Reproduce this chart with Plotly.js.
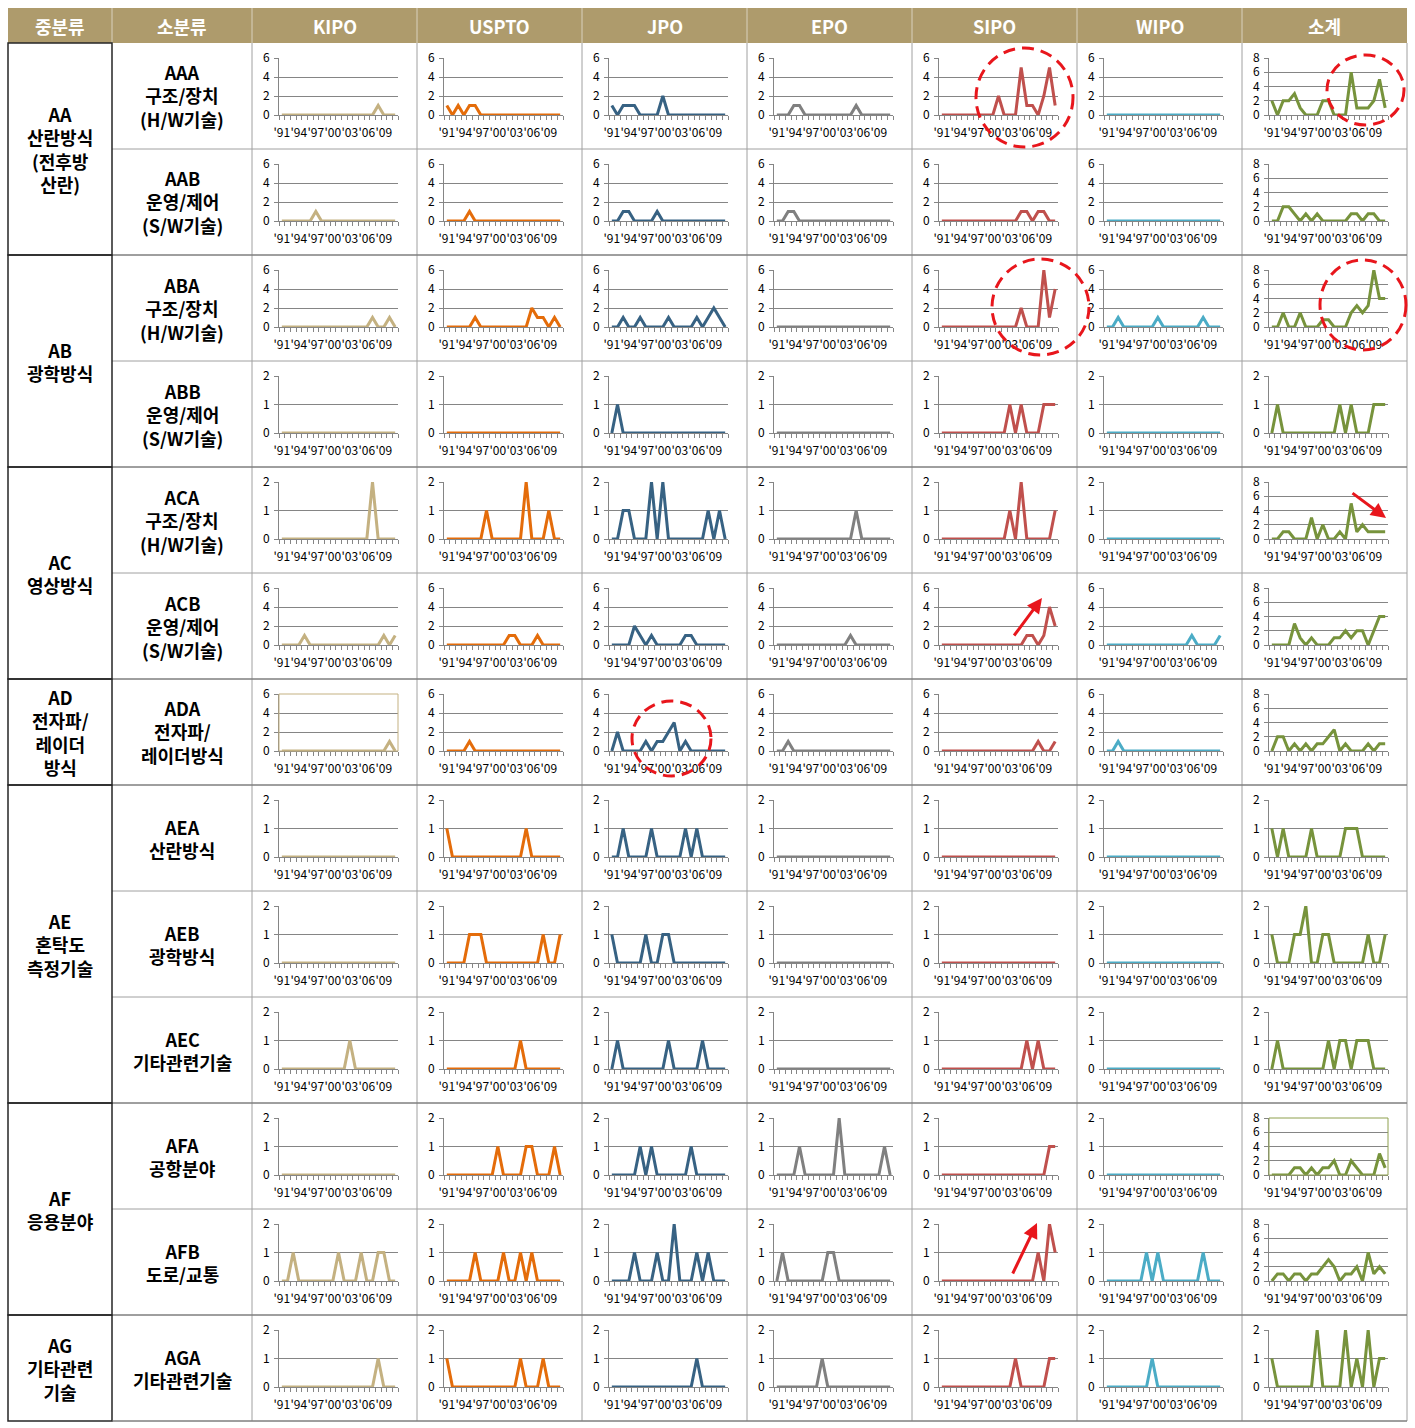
<!DOCTYPE html>
<html><head><meta charset="utf-8">
<script src="https://cdn.plot.ly/plotly-3.0.1.min.js"></script>
<style>html,body{margin:0;padding:0;background:#fff}#chart{width:1415px;height:1428px}</style>
</head><body><div id="chart"></div>
<script>
const years = [1991,1992,1993,1994,1995,1996,1997,1998,1999,2000,2001,2002,2003,2004,2005,2006,2007,2008,2009,2010,2011];
const yearTicks = [1991,1994,1997,2000,2003,2006,2009];
const yearTickText = ["'91","'94","'97","'00","'03","'06","'09"];
const offices = ["KIPO","USPTO","JPO","EPO","SIPO","WIPO","소계"];
const headerLeft = ["중분류","소분류"];
const midGroups = ["AA<br>산란방식<br>(전후방<br>산란)","AB<br>광학방식","AC<br>영상방식","AD<br>전자파/<br>레이더<br>방식","AE<br>혼탁도<br>측정기술","AF<br>응용분야","AG<br>기타관련<br>기술"];
const midGroupRows = [2,2,2,1,3,2,1];
const subCodes = ["AAA","AAB","ABA","ABB","ACA","ACB","ADA","AEA","AEB","AEC","AFA","AFB","AGA"];
const subNames = ["구조/장치<br>(H/W기술)","운영/제어<br>(S/W기술)","구조/장치<br>(H/W기술)","운영/제어<br>(S/W기술)","구조/장치<br>(H/W기술)","운영/제어<br>(S/W기술)","전자파/<br>레이더방식","산란방식","광학방식","기타관련기술","공항분야","도로/교통","기타관련기술"];

// ---- data (index 0 = 1991 ... 20 = 2011) ----
const AAA_KIPO  = [0,0,0,0,0,0,0,0,0,0,0,0,0,0,0,0,0,1,0,0,0];
const AAA_USPTO = [1,0,1,0,1,1,0,0,0,0,0,0,0,0,0,0,0,0,0,0,0];
const AAA_JPO   = [1,0,1,1,1,0,0,0,0,2,0,0,0,0,0,0,0,0,0,0,0];
const AAA_EPO   = [0,0,0,1,1,0,0,0,0,0,0,0,0,0,1,0,0,0,0,0,0];
const AAA_SIPO  = [0,0,0,0,0,0,0,0,0,0,2,0,0,0,5,1,1,0,2,5,1];
const AAA_WIPO  = [0,0,0,0,0,0,0,0,0,0,0,0,0,0,0,0,0,0,0,0,0];
const AAA_SUM   = [2,0,2,2,3,1,0,0,0,2,2,0,0,0,6,1,1,1,2,5,1];

const AAB_KIPO  = [0,0,0,0,0,0,1,0,0,0,0,0,0,0,0,0,0,0,0,0,0];
const AAB_USPTO = [0,0,0,0,1,0,0,0,0,0,0,0,0,0,0,0,0,0,0,0,0];
const AAB_JPO   = [0,0,1,1,0,0,0,0,1,0,0,0,0,0,0,0,0,0,0,0,0];
const AAB_EPO   = [0,0,1,1,0,0,0,0,0,0,0,0,0,0,0,0,0,0,0,0,0];
const AAB_SIPO  = [0,0,0,0,0,0,0,0,0,0,0,0,0,0,1,1,0,1,1,0,0];
const AAB_WIPO  = [0,0,0,0,0,0,0,0,0,0,0,0,0,0,0,0,0,0,0,0,0];
const AAB_SUM   = [0,0,2,2,1,0,1,0,1,0,0,0,0,0,1,1,0,1,1,0,0];

const ABA_KIPO  = [0,0,0,0,0,0,0,0,0,0,0,0,0,0,0,0,1,0,0,1,0];
const ABA_USPTO = [0,0,0,0,0,1,0,0,0,0,0,0,0,0,0,2,1,1,0,1,0];
const ABA_JPO   = [0,0,1,0,0,1,0,0,0,0,1,0,0,0,0,1,0,1,2,1,0];
const ABA_EPO   = [0,0,0,0,0,0,0,0,0,0,0,0,0,0,0,0,0,0,0,0,0];
const ABA_SIPO  = [0,0,0,0,0,0,0,0,0,0,0,0,0,0,2,0,0,0,6,1,4];
const ABA_WIPO  = [0,0,1,0,0,0,0,0,0,1,0,0,0,0,0,0,0,1,0,0,0];
const ABA_SUM   = [0,0,2,0,0,2,0,0,0,1,1,0,0,0,2,3,2,3,8,4,4];

const ABB_KIPO  = [0,0,0,0,0,0,0,0,0,0,0,0,0,0,0,0,0,0,0,0,0];
const ABB_USPTO = [0,0,0,0,0,0,0,0,0,0,0,0,0,0,0,0,0,0,0,0,0];
const ABB_JPO   = [0,1,0,0,0,0,0,0,0,0,0,0,0,0,0,0,0,0,0,0,0];
const ABB_EPO   = [0,0,0,0,0,0,0,0,0,0,0,0,0,0,0,0,0,0,0,0,0];
const ABB_SIPO  = [0,0,0,0,0,0,0,0,0,0,0,0,1,0,1,0,0,0,1,1,1];
const ABB_WIPO  = [0,0,0,0,0,0,0,0,0,0,0,0,0,0,0,0,0,0,0,0,0];
const ABB_SUM   = [0,1,0,0,0,0,0,0,0,0,0,0,1,0,1,0,0,0,1,1,1];

const ACA_KIPO  = [0,0,0,0,0,0,0,0,0,0,0,0,0,0,0,0,2,0,0,0,0];
const ACA_USPTO = [0,0,0,0,0,0,0,1,0,0,0,0,0,0,2,0,0,0,1,0,0];
const ACA_JPO   = [0,0,1,1,0,0,0,2,0,2,0,0,0,0,0,0,0,1,0,1,0];
const ACA_EPO   = [0,0,0,0,0,0,0,0,0,0,0,0,0,0,1,0,0,0,0,0,0];
const ACA_SIPO  = [0,0,0,0,0,0,0,0,0,0,0,0,1,0,2,0,0,0,0,0,1];
const ACA_WIPO  = [0,0,0,0,0,0,0,0,0,0,0,0,0,0,0,0,0,0,0,0,0];
const ACA_SUM   = [0,0,1,1,0,0,0,3,0,2,0,0,1,0,5,1,2,1,1,1,1];

const ACB_KIPO  = [0,0,0,0,1,0,0,0,0,0,0,0,0,0,0,0,0,0,1,0,1];
const ACB_USPTO = [0,0,0,0,0,0,0,0,0,0,0,1,1,0,0,0,1,0,0,0,0];
const ACB_JPO   = [0,0,0,0,2,1,0,1,0,0,0,0,0,1,1,0,0,0,0,0,0];
const ACB_EPO   = [0,0,0,0,0,0,0,0,0,0,0,0,0,1,0,0,0,0,0,0,0];
const ACB_SIPO  = [0,0,0,0,0,0,0,0,0,0,0,0,0,0,0,1,1,0,1,4,2];
const ACB_WIPO  = [0,0,0,0,0,0,0,0,0,0,0,0,0,0,0,1,0,0,0,0,1];
const ACB_SUM   = [0,0,0,0,3,1,0,1,0,0,0,1,1,2,1,2,2,0,2,4,4];

const ADA_KIPO  = [0,0,0,0,0,0,0,0,0,0,0,0,0,0,0,0,0,0,0,1,0];
const ADA_USPTO = [0,0,0,0,1,0,0,0,0,0,0,0,0,0,0,0,0,0,0,0,0];
const ADA_JPO   = [0,2,0,0,0,0,1,0,1,1,2,3,0,1,0,0,0,0,0,0,0];
const ADA_EPO   = [0,0,1,0,0,0,0,0,0,0,0,0,0,0,0,0,0,0,0,0,0];
const ADA_SIPO  = [0,0,0,0,0,0,0,0,0,0,0,0,0,0,0,0,0,1,0,0,1];
const ADA_WIPO  = [0,0,1,0,0,0,0,0,0,0,0,0,0,0,0,0,0,0,0,0,0];
const ADA_SUM   = [0,2,2,0,1,0,1,0,1,1,2,3,0,1,0,0,0,1,0,1,1];

const AEA_KIPO  = [0,0,0,0,0,0,0,0,0,0,0,0,0,0,0,0,0,0,0,0,0];
const AEA_USPTO = [1,0,0,0,0,0,0,0,0,0,0,0,0,0,1,0,0,0,0,0,0];
const AEA_JPO   = [0,0,1,0,0,0,0,1,0,0,0,0,0,1,0,1,0,0,0,0,0];
const AEA_EPO   = [0,0,0,0,0,0,0,0,0,0,0,0,0,0,0,0,0,0,0,0,0];
const AEA_SIPO  = [0,0,0,0,0,0,0,0,0,0,0,0,0,0,0,0,0,0,0,0,0];
const AEA_WIPO  = [0,0,0,0,0,0,0,0,0,0,0,0,0,0,0,0,0,0,0,0,0];
const AEA_SUM   = [1,0,1,0,0,0,0,1,0,0,0,0,0,1,1,1,0,0,0,0,0];

const AEB_KIPO  = [0,0,0,0,0,0,0,0,0,0,0,0,0,0,0,0,0,0,0,0,0];
const AEB_USPTO = [0,0,0,0,1,1,1,0,0,0,0,0,0,0,0,0,0,1,0,0,1];
const AEB_JPO   = [1,0,0,0,0,0,1,0,0,1,1,0,0,0,0,0,0,0,0,0,0];
const AEB_EPO   = [0,0,0,0,0,0,0,0,0,0,0,0,0,0,0,0,0,0,0,0,0];
const AEB_SIPO  = [0,0,0,0,0,0,0,0,0,0,0,0,0,0,0,0,0,0,0,0,0];
const AEB_WIPO  = [0,0,0,0,0,0,0,0,0,0,0,0,0,0,0,0,0,0,0,0,0];
const AEB_SUM   = [1,0,0,0,1,1,2,0,0,1,1,0,0,0,0,0,0,1,0,0,1];

const AEC_KIPO  = [0,0,0,0,0,0,0,0,0,0,0,0,1,0,0,0,0,0,0,0,0];
const AEC_USPTO = [0,0,0,0,0,0,0,0,0,0,0,0,0,1,0,0,0,0,0,0,0];
const AEC_JPO   = [0,1,0,0,0,0,0,0,0,0,1,0,0,0,0,0,1,0,0,0,0];
const AEC_EPO   = [0,0,0,0,0,0,0,0,0,0,0,0,0,0,0,0,0,0,0,0,0];
const AEC_SIPO  = [0,0,0,0,0,0,0,0,0,0,0,0,0,0,0,1,0,1,0,0,0];
const AEC_WIPO  = [0,0,0,0,0,0,0,0,0,0,0,0,0,0,0,0,0,0,0,0,0];
const AEC_SUM   = [0,1,0,0,0,0,0,0,0,0,1,0,1,1,0,1,1,1,0,0,0];

const AFA_KIPO  = [0,0,0,0,0,0,0,0,0,0,0,0,0,0,0,0,0,0,0,0,0];
const AFA_USPTO = [0,0,0,0,0,0,0,0,0,1,0,0,0,0,1,1,0,0,0,1,0];
const AFA_JPO   = [0,0,0,0,0,1,0,1,0,0,0,0,0,0,1,0,0,0,0,0,0];
const AFA_EPO   = [0,0,0,0,1,0,0,0,0,0,0,2,0,0,0,0,0,0,0,1,0];
const AFA_SIPO  = [0,0,0,0,0,0,0,0,0,0,0,0,0,0,0,0,0,0,0,1,1];
const AFA_WIPO  = [0,0,0,0,0,0,0,0,0,0,0,0,0,0,0,0,0,0,0,0,0];
const AFA_SUM   = [0,0,0,0,1,1,0,1,0,1,1,2,0,0,2,1,0,0,0,3,1];

const AFB_KIPO  = [0,0,1,0,0,0,0,0,0,0,1,0,0,0,1,0,0,1,1,0,0];
const AFB_USPTO = [0,0,0,0,0,1,0,0,0,0,1,0,0,1,0,1,0,0,0,0,0];
const AFB_JPO   = [0,0,0,0,1,0,0,0,1,0,0,2,0,0,0,1,0,1,0,0,0];
const AFB_EPO   = [0,1,0,0,0,0,0,0,0,1,1,0,0,0,0,0,0,0,0,0,0];
const AFB_SIPO  = [0,0,0,0,0,0,0,0,0,0,0,0,0,0,0,0,0,1,0,2,1];
const AFB_WIPO  = [0,0,0,0,0,0,0,1,0,1,0,0,0,0,0,0,0,1,0,0,0];
const AFB_SUM   = [0,1,1,0,1,1,0,1,1,2,3,2,0,1,1,2,0,4,1,2,1];

const AGA_KIPO  = [0,0,0,0,0,0,0,0,0,0,0,0,0,0,0,0,0,1,0,0,0];
const AGA_USPTO = [1,0,0,0,0,0,0,0,0,0,0,0,0,1,0,0,0,1,0,0,0];
const AGA_JPO   = [0,0,0,0,0,0,0,0,0,0,0,0,0,0,0,1,0,0,0,0,0];
const AGA_EPO   = [0,0,0,0,0,0,0,0,1,0,0,0,0,0,0,0,0,0,0,0,0];
const AGA_SIPO  = [0,0,0,0,0,0,0,0,0,0,0,0,0,1,0,0,0,0,0,1,1];
const AGA_WIPO  = [0,0,0,0,0,0,0,0,1,0,0,0,0,0,0,0,0,0,0,0,0];
const AGA_SUM   = [1,0,0,0,0,0,0,0,2,0,0,0,0,2,0,1,0,2,0,1,1];

const rowSeries = [
  [AAA_KIPO,AAA_USPTO,AAA_JPO,AAA_EPO,AAA_SIPO,AAA_WIPO,AAA_SUM],
  [AAB_KIPO,AAB_USPTO,AAB_JPO,AAB_EPO,AAB_SIPO,AAB_WIPO,AAB_SUM],
  [ABA_KIPO,ABA_USPTO,ABA_JPO,ABA_EPO,ABA_SIPO,ABA_WIPO,ABA_SUM],
  [ABB_KIPO,ABB_USPTO,ABB_JPO,ABB_EPO,ABB_SIPO,ABB_WIPO,ABB_SUM],
  [ACA_KIPO,ACA_USPTO,ACA_JPO,ACA_EPO,ACA_SIPO,ACA_WIPO,ACA_SUM],
  [ACB_KIPO,ACB_USPTO,ACB_JPO,ACB_EPO,ACB_SIPO,ACB_WIPO,ACB_SUM],
  [ADA_KIPO,ADA_USPTO,ADA_JPO,ADA_EPO,ADA_SIPO,ADA_WIPO,ADA_SUM],
  [AEA_KIPO,AEA_USPTO,AEA_JPO,AEA_EPO,AEA_SIPO,AEA_WIPO,AEA_SUM],
  [AEB_KIPO,AEB_USPTO,AEB_JPO,AEB_EPO,AEB_SIPO,AEB_WIPO,AEB_SUM],
  [AEC_KIPO,AEC_USPTO,AEC_JPO,AEC_EPO,AEC_SIPO,AEC_WIPO,AEC_SUM],
  [AFA_KIPO,AFA_USPTO,AFA_JPO,AFA_EPO,AFA_SIPO,AFA_WIPO,AFA_SUM],
  [AFB_KIPO,AFB_USPTO,AFB_JPO,AFB_EPO,AFB_SIPO,AFB_WIPO,AFB_SUM],
  [AGA_KIPO,AGA_USPTO,AGA_JPO,AGA_EPO,AGA_SIPO,AGA_WIPO,AGA_SUM]
];
// y-axis maxima: [offices, subtotal]
const rowYMax = [[6,8],[6,8],[6,8],[2,2],[2,8],[6,8],[6,8],[2,2],[2,2],[2,2],[2,8],[2,8],[2,2]];

// ---- styling / geometry ----
const lineColors = ['#C4B181','#E46C0A','#376283','#808080','#C0504D','#4BACC6','#77933C'];
const W = 1415, H = 1428;
const colX = [8,112,252,417,582,747,912,1077,1242,1407];
const headTop = 8, headBot = 43, rowH = 106;
const gridCol = '#858585';
const FONT = '"Noto Sans CJK KR", "Noto Sans", sans-serif';
const px = x => x / W;
const py = y => 1 - y / H;

const data = [];
const layout = {
  width: W, height: H,
  margin: {l:0, r:0, t:0, b:0},
  paper_bgcolor: '#ffffff', plot_bgcolor: 'rgba(0,0,0,0)',
  showlegend: false,
  font: {family: FONT, color: '#000'},
  shapes: [], annotations: []
};

for (let r = 0; r < subCodes.length; r++) {
  const top = headBot + rowH * r;
  for (let c = 0; c < 7; c++) {
    const k = r * 7 + c + 1;
    const left = colX[2] + 165 * c;
    const ymax = c === 6 ? rowYMax[r][1] : rowYMax[r][0];
    const xa = 'xaxis' + (k === 1 ? '' : k), ya = 'yaxis' + (k === 1 ? '' : k);
    layout[xa] = {
      domain: [px(left + 27), px(left + 146)], anchor: 'y' + k,
      range: [1990.5, 2011.5], tickmode: 'array', tickvals: yearTicks, ticktext: yearTickText,
      ticks: '', showgrid: false, zeroline: false, showline: true, linecolor: gridCol, linewidth: 1,
      tickangle: 0, tickfont: {size: 12, family: FONT, color: '#000'}, ticklabelstandoff: 7,
      minor: {tickmode: 'linear', tick0: 1990.5, dtick: 1, ticks: 'outside', ticklen: 4, tickcolor: gridCol, showgrid: false},
      layer: 'below traces', fixedrange: true
    };
    layout[ya] = {
      domain: [py(top + 72), py(top + 15)], anchor: 'x' + k,
      range: [0, ymax], tickmode: 'linear', tick0: 0, dtick: ymax === 2 ? 1 : 2,
      showgrid: true, gridcolor: gridCol, gridwidth: 1, zeroline: false,
      showline: true, linecolor: gridCol, linewidth: 1, ticks: 'outside', ticklen: 4, tickcolor: gridCol,
      tickfont: {size: 12, family: FONT, color: '#000'}, ticklabelstandoff: 2, layer: 'below traces', fixedrange: true
    };
    data.push({
      type: 'scatter', mode: 'lines', x: years, y: rowSeries[r][c],
      xaxis: 'x' + k, yaxis: 'y' + k, cliponaxis: false, hoverinfo: 'skip',
      line: {color: lineColors[c], width: 3}
    });
  }
}

// plot-area borders seen on two cells
const bordered = [[6,0,'#C4B181'],[10,6,'#8EA04F']];
bordered.forEach(([r,c,col]) => {
  const top = headBot + rowH * r, left = colX[2] + 165 * c;
  layout.shapes.push({type:'rect', xref:'paper', yref:'paper', x0:px(left+27), x1:px(left+146), y0:py(top+72), y1:py(top+15), line:{color:col, width:1}});
});

// header
layout.shapes.push({type:'rect', xref:'paper', yref:'paper', layer:'below', x0:px(colX[0]), x1:px(colX[9]), y0:py(headBot), y1:py(headTop), fillcolor:'#AE9B6C', line:{width:0}});
for (let i = 1; i < 9; i++) {
  layout.shapes.push({type:'line', xref:'paper', yref:'paper', x0:px(colX[i]), x1:px(colX[i]), y0:py(headTop), y1:py(headBot), line:{color:'#D9D1BD', width:1}});
}
const headTexts = headerLeft.concat(offices);
for (let i = 0; i < 9; i++) {
  layout.annotations.push({xref:'paper', yref:'paper', x:px((colX[i]+colX[i+1])/2), y:py((headTop+headBot)/2), text:'<b>'+headTexts[i]+'</b>', showarrow:false, font:{family:FONT, size:18, color:'#ffffff'}, xanchor:'center', yanchor:'middle'});
}

// body grid
const bottom = headBot + rowH * subCodes.length;
for (let i = 2; i < 10; i++) {
  layout.shapes.push({type:'line', xref:'paper', yref:'paper', x0:px(colX[i]), x1:px(colX[i]), y0:py(headBot), y1:py(bottom), line:{color:'#A0A0A0', width:1}});
}
for (let r = 1; r < subCodes.length; r++) {
  const y = headBot + rowH * r;
  layout.shapes.push({type:'line', xref:'paper', yref:'paper', x0:px(colX[1]), x1:px(colX[9]), y0:py(y), y1:py(y), line:{color:'#A0A0A0', width:1}});
}
layout.shapes.push({type:'line', xref:'paper', yref:'paper', x0:px(colX[1]), x1:px(colX[9]), y0:py(bottom), y1:py(bottom), line:{color:'#A0A0A0', width:1}});

// mid groups
let gr = 0;
for (let g = 0; g < midGroups.length; g++) {
  const t = headBot + rowH * gr, b = headBot + rowH * (gr + midGroupRows[g]);
  layout.shapes.push({type:'rect', xref:'paper', yref:'paper', x0:px(colX[0]), x1:px(colX[1]), y0:py(b), y1:py(t), line:{color:'#262626', width:1.5}});
  layout.shapes.push({type:'line', xref:'paper', yref:'paper', x0:px(colX[1]), x1:px(colX[9]), y0:py(b), y1:py(b), line:{color:'#6E6E6E', width:1}});
  layout.annotations.push({xref:'paper', yref:'paper', x:px((colX[0]+colX[1])/2), y:py((t+b)/2), text:'<b>'+midGroups[g]+'</b>', showarrow:false, font:{family:FONT, size:18, color:'#000'}, xanchor:'center', yanchor:'middle'});
  gr += midGroupRows[g];
}
// sub categories
for (let r = 0; r < subCodes.length; r++) {
  const t = headBot + rowH * r;
  layout.annotations.push({xref:'paper', yref:'paper', x:px((colX[1]+colX[2])/2), y:py(t + rowH/2), text:'<b>'+subCodes[r]+'<br>'+subNames[r]+'</b>', showarrow:false, font:{family:FONT, size:18, color:'#000'}, xanchor:'center', yanchor:'middle'});
}

// red dashed highlight circles
const RED = '#E8161C';
const circles = [[976,48,1073,147],[1327,55,1404,125],[992,259,1089,355],[1320,260,1406,350],[632,701,711,776]];
circles.forEach(([x0,y0,x1,y1]) => layout.shapes.push({type:'circle', xref:'paper', yref:'paper', x0:px(x0), x1:px(x1), y0:py(y1), y1:py(y0), line:{color:RED, width:3, dash:'12px,7px'}}));
// red arrows: [headX, headY, tailX, tailY]
const arrows = [[1386,518,1351,492],[1042,598,1013,637],[1037,1223,1012,1275]];
arrows.forEach(([hx,hy,tx,ty]) => layout.annotations.push({xref:'paper', yref:'paper', x:px(hx), y:py(hy), ax:tx-hx, ay:ty-hy, text:'', showarrow:true, arrowhead:2, arrowsize:1, arrowwidth:3, arrowcolor:RED}));

Plotly.newPlot('chart', data, layout, {staticPlot:true, displayModeBar:false});
</script>
</body></html>
